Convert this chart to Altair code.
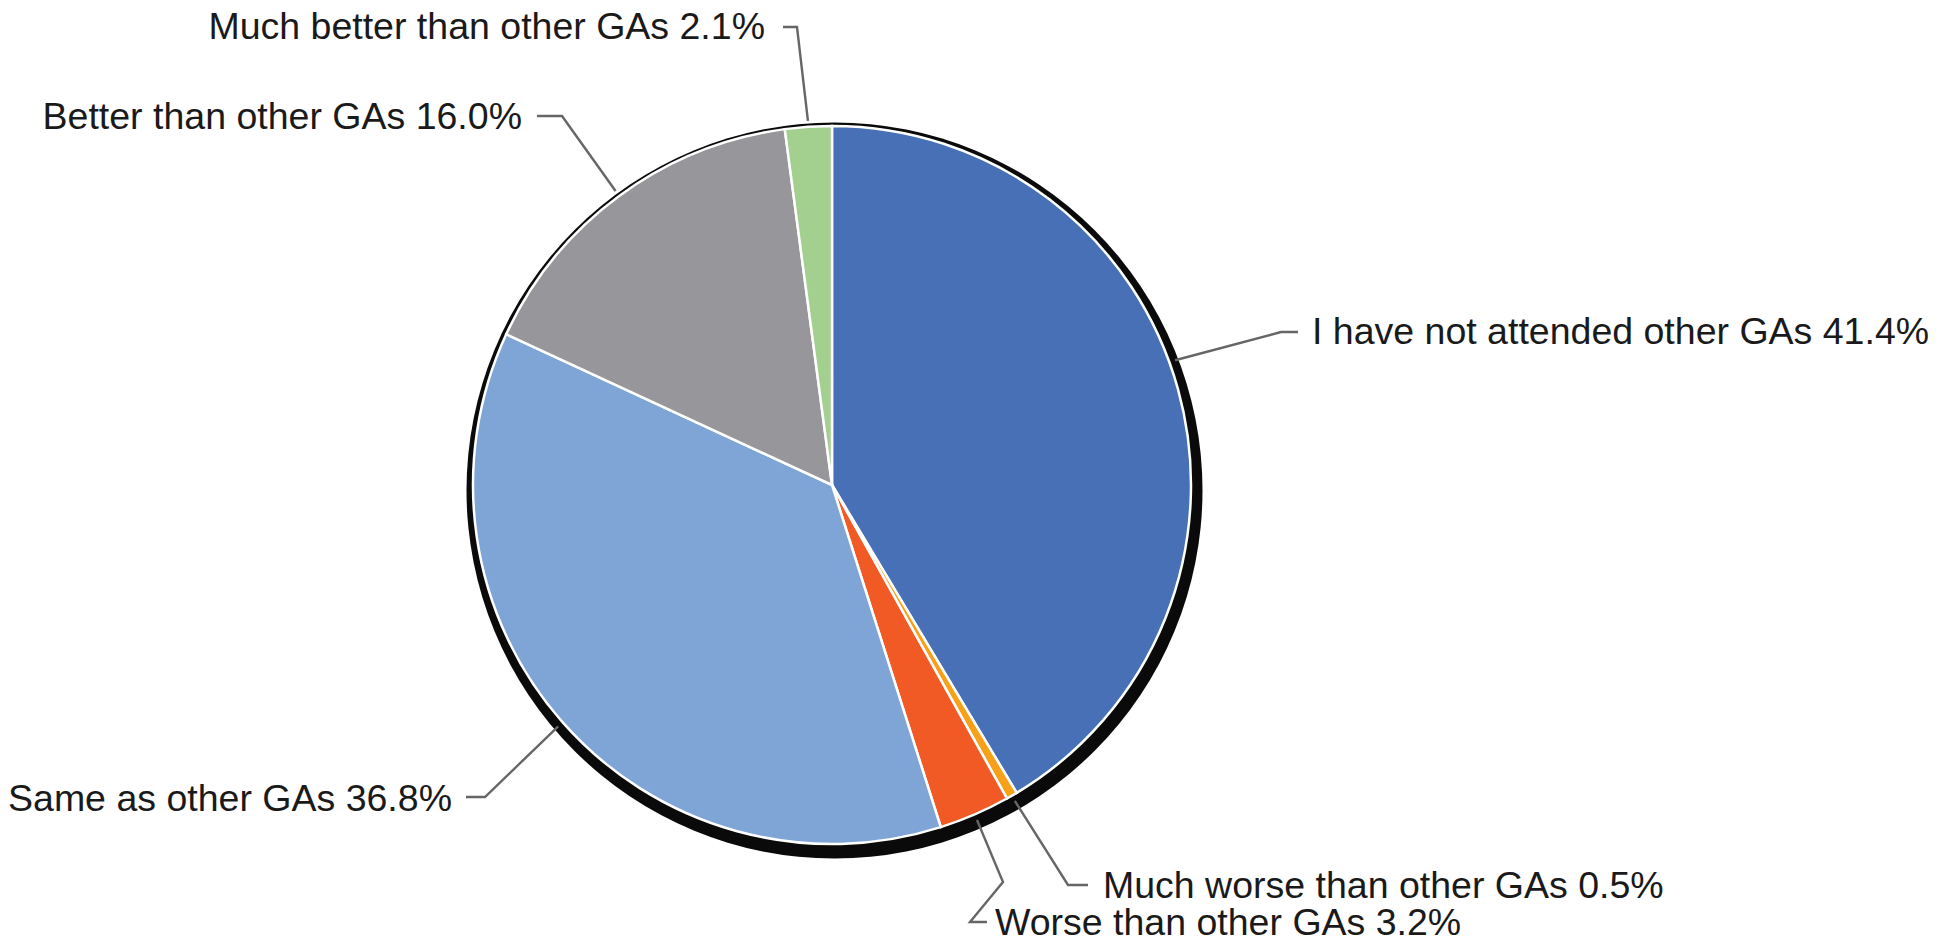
import math
import altair as alt
import pandas as pd

# ---- data ----
categories = [
    "I have not attended other GAs",
    "Much worse than other GAs",
    "Worse than other GAs",
    "Same as other GAs",
    "Better than other GAs",
    "Much better than other GAs",
]
values = [41.4, 0.5, 3.2, 36.8, 16.0, 2.1]
colors = ["#4770b6", "#f7a11a", "#f15a24", "#7fa4d6", "#97969b", "#a3cf8f"]

# ---- layout (chart pixel space; page adds 8px margin) ----
W, H = 1934, 934
CX, CY, R = 824, 477, 359          # pie centre / radius
SX, SY, SR = 826.5, 482.5, 368     # dark shadow disc behind the pie
ANCHOR_R = 365
anchor_shift_deg = [-4.5, 0, 0, 0, 0, 0]   # small per-label tweak of leader anchor

# label text position and alignment
label_layout = [
    (1304, 325, "left"),
    (1095, 879, "left"),
    (987, 916, "left"),
    (444, 792, "right"),
    (514, 110, "right"),
    (757, 20, "right"),
]
# elbow points of each leader line (after the anchor on the pie edge)
leader_elbows = [
    [(1273, 324), (1290, 324)],
    [(1060, 877), (1080, 877)],
    [(995, 874), (962, 914), (979, 914)],
    [(477, 789), (458, 789)],
    [(554, 108), (529, 108)],
    [(789, 19), (775, 19)],
]

total = sum(values)
rows, line_rows = [], []
cum = 0.0
for i, (cat, v) in enumerate(zip(categories, values)):
    mid = (cum + v / 2) / total * 2 * math.pi + math.radians(anchor_shift_deg[i])
    cum += v
    ax = CX + ANCHOR_R * math.sin(mid)
    ay = CY - ANCHOR_R * math.cos(mid)
    lx, ly, al = label_layout[i]
    rows.append({"cat": cat, "value": v, "order": i,
                 "label": f"{cat} {v:.1f}%", "lx": lx, "ly": ly, "align": al})
    pts = [(ax, ay)] + leader_elbows[i]
    for k, (px, py) in enumerate(pts):
        line_rows.append({"cat": cat, "k": k, "px": px, "py": py})

df = pd.DataFrame(rows)
lines = pd.DataFrame(line_rows)

xs = alt.Scale(domain=[0, W], range=[0, W])
ys = alt.Scale(domain=[0, H], range=[0, H])

shadow = alt.Chart(pd.DataFrame({"v": [1]})).mark_arc(
    color="#0a0a0a", radius=SR
).encode(
    theta=alt.value(0), theta2=alt.value(2 * math.pi),
    x=alt.value(SX), y=alt.value(SY),
)

pie = alt.Chart(df).mark_arc(
    radius=R, stroke="white", strokeWidth=2.5
).encode(
    theta=alt.Theta("value:Q", stack=True),
    order=alt.Order("order:Q"),
    color=alt.Color("cat:N", scale=alt.Scale(domain=categories, range=colors), legend=None),
    x=alt.value(CX), y=alt.value(CY),
)

leaders = alt.Chart(lines).mark_line(color="#666666", strokeWidth=2.4).encode(
    x=alt.X("px:Q", scale=xs, axis=None),
    y=alt.Y("py:Q", scale=ys, axis=None),
    detail="cat:N",
    order="k:Q",
)

font = "Liberation Sans, Arial, sans-serif"
texts = []
for al in ["left", "right"]:
    texts.append(
        alt.Chart(df[df["align"] == al]).mark_text(
            align=al, baseline="middle", font=font, fontSize=37.5, color="#1a1a1a"
        ).encode(
            x=alt.X("lx:Q", scale=xs, axis=None),
            y=alt.Y("ly:Q", scale=ys, axis=None),
            text="label:N",
        )
    )

chart = alt.layer(shadow, pie, leaders, *texts).properties(
    width=W, height=H, padding=0,
    autosize=alt.AutoSizeParams(type="none"),
).configure(background="white").configure_view(stroke=None, strokeWidth=0)

chart.save("out.html", embed_options={"renderer": "svg", "actions": False})
